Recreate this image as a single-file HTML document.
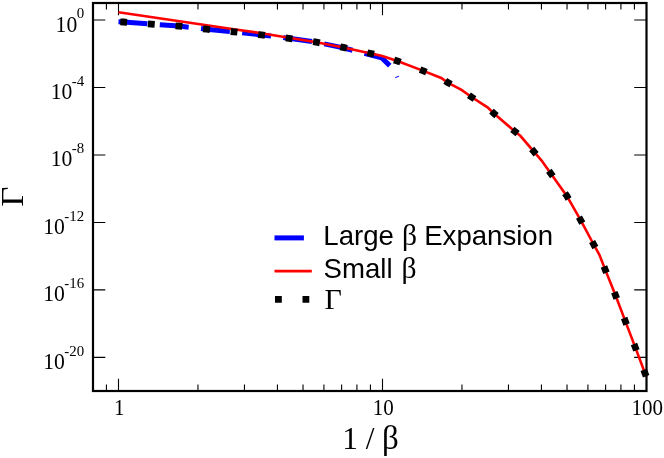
<!DOCTYPE html>
<html><head><meta charset="utf-8"><title>Gamma vs 1/beta</title>
<style>
html,body{margin:0;padding:0;background:#fff;}
body{width:664px;height:458px;overflow:hidden;font-family:"Liberation Sans",sans-serif;}
svg{display:block;will-change:transform;}
</style></head><body>
<svg width="664" height="458" viewBox="0 0 664 458">
<rect x="0" y="0" width="664" height="458" fill="#fff"/>
<path d="M118.50,391.00 V378.70 M118.50,3.00 V15.30 M382.50,391.00 V378.70 M382.50,3.00 V15.30 M106.42,391.00 V384.60 M106.42,3.00 V9.40 M197.97,391.00 V384.60 M197.97,3.00 V9.40 M244.46,391.00 V384.60 M244.46,3.00 V9.40 M277.44,391.00 V384.60 M277.44,3.00 V9.40 M303.03,391.00 V384.60 M303.03,3.00 V9.40 M323.93,391.00 V384.60 M323.93,3.00 V9.40 M341.61,391.00 V384.60 M341.61,3.00 V9.40 M356.92,391.00 V384.60 M356.92,3.00 V9.40 M370.42,391.00 V384.60 M370.42,3.00 V9.40 M461.97,391.00 V384.60 M461.97,3.00 V9.40 M508.46,391.00 V384.60 M508.46,3.00 V9.40 M541.44,391.00 V384.60 M541.44,3.00 V9.40 M567.03,391.00 V384.60 M567.03,3.00 V9.40 M587.93,391.00 V384.60 M587.93,3.00 V9.40 M605.61,391.00 V384.60 M605.61,3.00 V9.40 M620.92,391.00 V384.60 M620.92,3.00 V9.40 M634.42,391.00 V384.60 M634.42,3.00 V9.40 M93.00,20.00 H105.30 M646.50,20.00 H634.20 M93.00,87.48 H105.30 M646.50,87.48 H634.20 M93.00,154.96 H105.30 M646.50,154.96 H634.20 M93.00,222.43 H105.30 M646.50,222.43 H634.20 M93.00,289.91 H105.30 M646.50,289.91 H634.20 M93.00,357.39 H105.30 M646.50,357.39 H634.20" stroke="#000" stroke-width="1.10" fill="none"/>
<path d="M118.50,21.80 L123.55,22.00 L151.40,24.10 L179.00,26.10 L206.60,29.20 L233.80,31.80 L261.40,34.90 L288.90,38.30 L316.40,42.20 L343.40,47.90 L371.00,55.00 L381.60,57.80 L391.50,67.30" stroke="#0000ff" stroke-width="5" stroke-dasharray="29 12.4" fill="none" stroke-linejoin="miter"/>
<path d="M395.2,77.7 L399,76.2" stroke="#0000ff" stroke-width="1" fill="none"/>
<path d="M118.50,12.30 L233.80,29.30 L261.40,33.20 L288.90,37.80 L316.40,42.20 L343.40,47.40 L371.00,53.50 L382.30,56.00 L397.40,61.00 L422.70,70.60 L441.20,78.00 L447.75,82.60 L461.50,89.90 L471.50,97.00 L487.50,107.40 L494.00,113.50 L514.90,131.50 L520.30,135.80 L533.70,151.40 L541.40,160.30 L550.80,173.40 L566.80,195.90 L580.50,219.80 L593.70,244.50 L599.40,254.80 L605.10,269.40 L615.40,295.10 L625.30,321.10 L635.10,346.90 L645.00,373.20 L646.30,376.60" stroke="#ff0000" stroke-width="2.6" fill="none" stroke-linejoin="miter"/>
<path d="M118.50,21.80 L123.55,22.00 L151.40,24.10 L179.00,26.10 L206.60,29.20 L233.80,31.80 L261.40,34.90 L288.90,38.30 L316.40,42.20 L343.40,47.40 L371.00,53.50 L382.30,56.00 L397.40,61.00 L422.70,70.60 L441.20,78.00 L447.75,82.60 L461.50,89.90 L471.50,97.00 L487.50,107.40 L494.00,113.50 L514.90,131.50 L520.30,135.80 L533.70,151.40 L541.40,160.30 L550.80,173.40 L566.80,195.90 L580.50,219.80 L593.70,244.50 L599.40,254.80 L605.10,269.40 L615.40,295.10 L625.30,321.10 L635.10,346.90 L645.00,373.20 L647.90,380.90" stroke="#000" stroke-width="6.8" stroke-dasharray="6.8 20.9" stroke-dashoffset="-1.8" fill="none"/>
<rect x="93.00" y="3.00" width="553.50" height="388.00" fill="none" stroke="#000" stroke-width="2.2"/>
<g font-family="'Liberation Serif', serif" fill="#000">
<text transform="translate(119.20,414.6) scale(0.955,1.075)" font-size="22.0" text-anchor="middle">1</text>
<text transform="translate(383.20,414.6) scale(0.955,1.075)" font-size="22.0" text-anchor="middle">10</text>
<text transform="translate(647.20,414.6) scale(0.955,1.075)" font-size="22.0" text-anchor="middle">100</text>
<text x="84.1" y="18.20" font-size="14.9" text-anchor="end">0</text>
<text transform="translate(77.25,31.50) scale(0.985,1.075)" font-size="22.0" text-anchor="end">10</text>
<text x="84.1" y="85.68" font-size="14.9" text-anchor="end">-4</text>
<text transform="translate(72.29,98.98) scale(0.985,1.075)" font-size="22.0" text-anchor="end">10</text>
<text x="84.1" y="153.16" font-size="14.9" text-anchor="end">-8</text>
<text transform="translate(72.29,166.46) scale(0.985,1.075)" font-size="22.0" text-anchor="end">10</text>
<text x="84.1" y="220.63" font-size="14.9" text-anchor="end">-12</text>
<text transform="translate(64.84,233.93) scale(0.985,1.075)" font-size="22.0" text-anchor="end">10</text>
<text x="84.1" y="288.11" font-size="14.9" text-anchor="end">-16</text>
<text transform="translate(64.84,301.41) scale(0.985,1.075)" font-size="22.0" text-anchor="end">10</text>
<text x="84.1" y="355.59" font-size="14.9" text-anchor="end">-20</text>
<text transform="translate(64.84,368.89) scale(0.985,1.075)" font-size="22.0" text-anchor="end">10</text>
<text transform="translate(342.2,448.8) scale(1,1.04)" font-size="31.3">1 /</text>
<text transform="translate(382.0,448.6) scale(1.0,1.02)" font-size="33">β</text>
<text transform="translate(23,196.7) rotate(-90) scale(1.13,1)" font-size="31" text-anchor="middle">Γ</text>
</g>
<path d="M274.5,237.9 H303.9" stroke="#0000ff" stroke-width="5" fill="none"/>
<path d="M274.5,271.1 H311.8" stroke="#ff0000" stroke-width="2.6" fill="none"/>
<path d="M275,299.3 H312" stroke="#000" stroke-width="6.8" stroke-dasharray="6.8 20.7" fill="none"/>
<g font-family="'Liberation Sans', sans-serif" fill="#000" font-size="27.6">
<text x="323.3" y="245.0">Large</text><text x="402" y="245.0" font-size="29.6" font-family="'Liberation Serif', serif">β</text><text x="424.2" y="245.0">Expansion</text>
<text x="323.6" y="277.6">Small</text><text x="401.5" y="277.6" font-size="29.6" font-family="'Liberation Serif', serif">β</text>
<text x="324.6" y="308.5" font-size="30" font-family="'Liberation Serif', serif">Γ</text>
</g>
</svg>
</body></html>
